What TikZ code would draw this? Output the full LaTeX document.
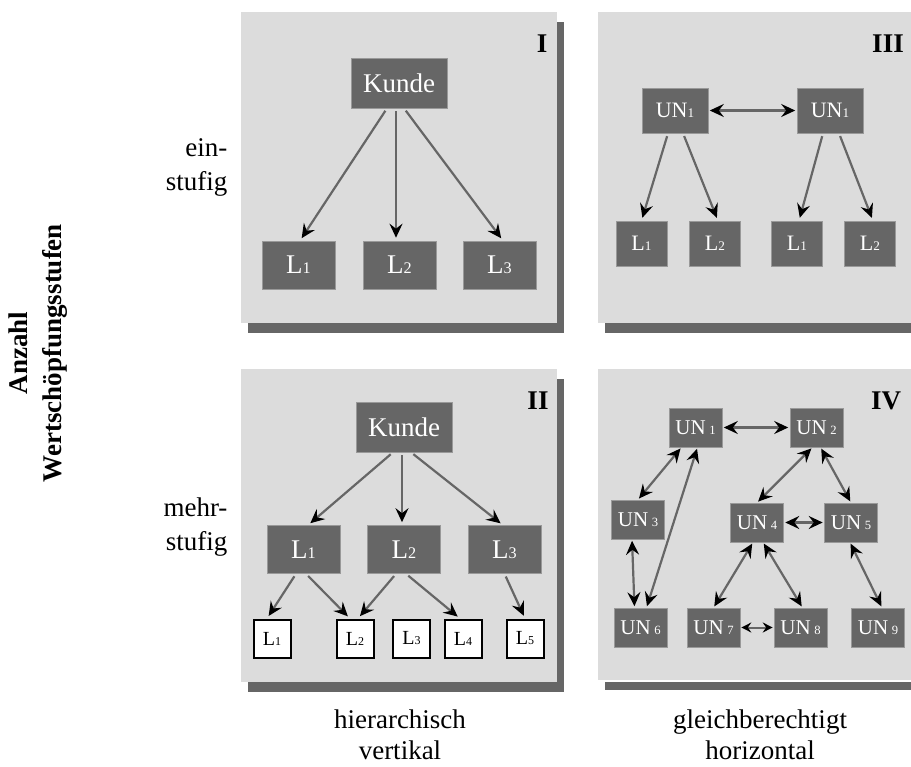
\documentclass[tikz,border=0pt]{standalone}
\usepackage{fontspec}
\setmainfont{Liberation Serif}
\usetikzlibrary{arrows.meta}

\definecolor{panelgray}{HTML}{DCDCDC}
\definecolor{boxgray}{HTML}{666666}
\newcommand\idx[1]{{\fontsize{0.6em}{1em}\selectfont #1}}
\newcommand\fs[1]{\fontsize{#1}{#1}\selectfont}

\begin{document}
\begin{tikzpicture}[x=1pt,y=-1pt,
    panel/.style={fill=panelgray},
    shadow/.style={fill=boxgray},
    unit/.style={fill=boxgray,draw=black!40,line width=0.6pt,text=white,inner sep=0pt},
    big/.style={unit,minimum width=73pt,minimum height=48pt,font=\fs{27}},
    mid/.style={unit,minimum width=51pt,minimum height=45pt,font=\fs{22}},
    small/.style={unit,minimum width=53pt,minimum height=39pt,font=\fs{21}},
    open/.style={fill=white,draw=black,line width=2pt,text=black,inner sep=0pt,
      minimum width=37pt,minimum height=38pt,font=\fs{20}},
    nr/.style={font=\bfseries\fs{27}},
    side/.style={align=right,anchor=east,font=\fontsize{27}{34}\selectfont},
    foot/.style={align=center,font=\fontsize{27}{31}\selectfont},
    link/.style={draw=boxgray,line width=2.2pt,shorten <=3pt,shorten >=3pt,
      -{Stealth[black,length=14pt,width=13pt,inset=5pt]}},
    both/.style={draw=boxgray,line width=2.2pt,shorten <=1.5pt,shorten >=1.5pt,
      {Stealth[black,length=14pt,width=13pt,inset=5pt]}-{Stealth[black,length=14pt,width=13pt,inset=5pt]}},
    short/.style={draw=boxgray,line width=2pt,shorten <=1pt,shorten >=1pt,
      {Stealth[black,length=10pt,width=10pt,inset=3.5pt]}-{Stealth[black,length=10pt,width=10pt,inset=3.5pt]}}]

  \useasboundingbox (0,0) rectangle (911,767);
  \clip (0,0) rectangle (911,767);

  % panels with shadow
  \fill[shadow] (248,22) rectangle (564,333);
  \fill[panel] (241,12) rectangle (557,323);
  \fill[shadow] (605,22) rectangle (930,333);
  \fill[panel] (598,12) rectangle (930,323);
  \fill[shadow] (248,379) rectangle (564,692);
  \fill[panel] (241,369) rectangle (557,682);
  \fill[shadow] (605,682) rectangle (930,690);
  \fill[panel] (598,369) rectangle (930,680);

  % axis labels
  \node[rotate=90,align=center,font=\bfseries\fontsize{27}{34}\selectfont] (axis) at (38,353)
    {Anzahl\\Wertschöpfungsstufen};
  \node[side] (ein) at (231,167) {ein-\\stufig};
  \node[side] (mehr) at (231,527) {mehr-\\stufig};
  \node[foot] (vert) at (400,735) {hierarchisch\\vertikal};
  \node[foot] (horz) at (760,735) {gleichberechtigt\\horizontal};

  % I
  \node[nr] (n1) at (542,44) {I};
  \node[big,minimum width=96pt,minimum height=50pt] (k1) at (399,83) {Kunde};
  \node[big] (a1) at (298.5,265) {L\idx{1}};
  \node[big] (a2) at (399.5,265) {L\idx{2}};
  \node[big] (a3) at (499.5,265) {L\idx{3}};
  \draw[link] ([xshift=-12pt]k1.south) to ([xshift=1.5pt]a1.north);
  \draw[link] ([xshift=-3pt]k1.south) to ([xshift=-3.5pt]a2.north);
  \draw[link] ([xshift=5pt]k1.south) to ([xshift=3.5pt]a3.north);

  % II
  \node[nr] (n2) at (538,401) {II};
  \node[big,minimum width=96pt,minimum height=50pt] (k2) at (404,427) {Kunde};
  \node[big] (b1) at (303.5,549.5) {L\idx{1}};
  \node[big] (b2) at (404,549.5) {L\idx{2}};
  \node[big] (b3) at (504.5,549.5) {L\idx{3}};
  \node[open] (c1) at (272,638.5) {L\idx{1}};
  \node[open] (c2) at (355,638.5) {L\idx{2}};
  \node[open] (c3) at (411.5,638.5) {L\idx{3}};
  \node[open] (c4) at (463,638.5) {L\idx{4}};
  \node[open] (c5) at (525,638.5) {L\idx{5}};
  \draw[link] ([xshift=-11pt]k2.south) to ([xshift=4.5pt]b1.north);
  \draw[link] ([xshift=-2pt]k2.south) to ([xshift=-2pt]b2.north);
  \draw[link] ([xshift=7pt]k2.south) to ([xshift=-1.5pt]b3.north);
  \draw[link] ([xshift=-7.5pt]b1.south) to ([xshift=-5pt]c1.north);
  \draw[link] ([xshift=2.5pt]b1.south) to ([xshift=-5pt]c2.north);
  \draw[link] ([xshift=-8pt]b2.south) to ([xshift=3pt]c2.north);
  \draw[link] ([xshift=2pt]b2.south) to ([xshift=-3pt]c4.north);
  \draw[link] (b3.south) to (c5.north);

  % III
  \node[nr] (n3) at (888,44) {III};
  \node[mid,minimum width=66pt] (u1) at (675,110.5) {UN\idx{1}};
  \node[mid,minimum width=66pt] (u2) at (830,110.5) {UN\idx{1}};
  \node[mid] (d1) at (641.5,243.5) {L\idx{1}};
  \node[mid] (d2) at (715,243.5) {L\idx{2}};
  \node[mid] (d3) at (797,243.5) {L\idx{1}};
  \node[mid] (d4) at (870,243.5) {L\idx{2}};
  \draw[both] (u1.east) to (u2.west);
  \draw[link] ([xshift=-7pt]u1.south) to (d1.north);
  \draw[link] ([xshift=8pt]u1.south) to ([xshift=3pt]d2.north);
  \draw[link] ([xshift=-7pt]u2.south) to ([xshift=2pt]d3.north);
  \draw[link] ([xshift=9pt]u2.south) to ([xshift=3pt]d4.north);

  % IV
  \node[nr] (n4) at (886,401) {IV};
  \node[small] (v1) at (695.5,427.5) {UN\,\idx{1}};
  \node[small] (v2) at (816.5,427.5) {UN\,\idx{2}};
  \node[small] (v3) at (638,519.5) {UN\,\idx{3}};
  \node[small] (v4) at (757,522.5) {UN\,\idx{4}};
  \node[small] (v5) at (851,522.5) {UN\,\idx{5}};
  \node[small] (v6) at (640.5,627.5) {UN\,\idx{6}};
  \node[small] (v7) at (713.5,627.5) {UN\,\idx{7}};
  \node[small] (v8) at (800.5,627.5) {UN\,\idx{8}};
  \node[small] (v9) at (878,627.5) {UN\,\idx{9}};
  \draw[both] (v1.east) to (v2.west);
  \draw[both] ([xshift=-14pt]v1.south) to (v3.north);
  \draw[both] ([xshift=2pt]v1.south) to ([xshift=6pt]v6.north);
  \draw[both] ([xshift=-6pt]v3.south) to ([xshift=-6pt]v6.north);
  \draw[both] ([xshift=-4pt]v2.south) to (v4.north);
  \draw[both] ([xshift=4pt]v2.south) to (v5.north);
  \draw[both] (v4.east) to (v5.west);
  \draw[both] ([xshift=-4pt]v4.south) to (v7.north);
  \draw[both] ([xshift=6pt]v4.south) to ([xshift=2pt]v8.north);
  \draw[both] ([xshift=-1pt]v5.south) to ([xshift=4pt]v9.north);
  \draw[short] (v7.east) to (v8.west);
\end{tikzpicture}
\end{document}
